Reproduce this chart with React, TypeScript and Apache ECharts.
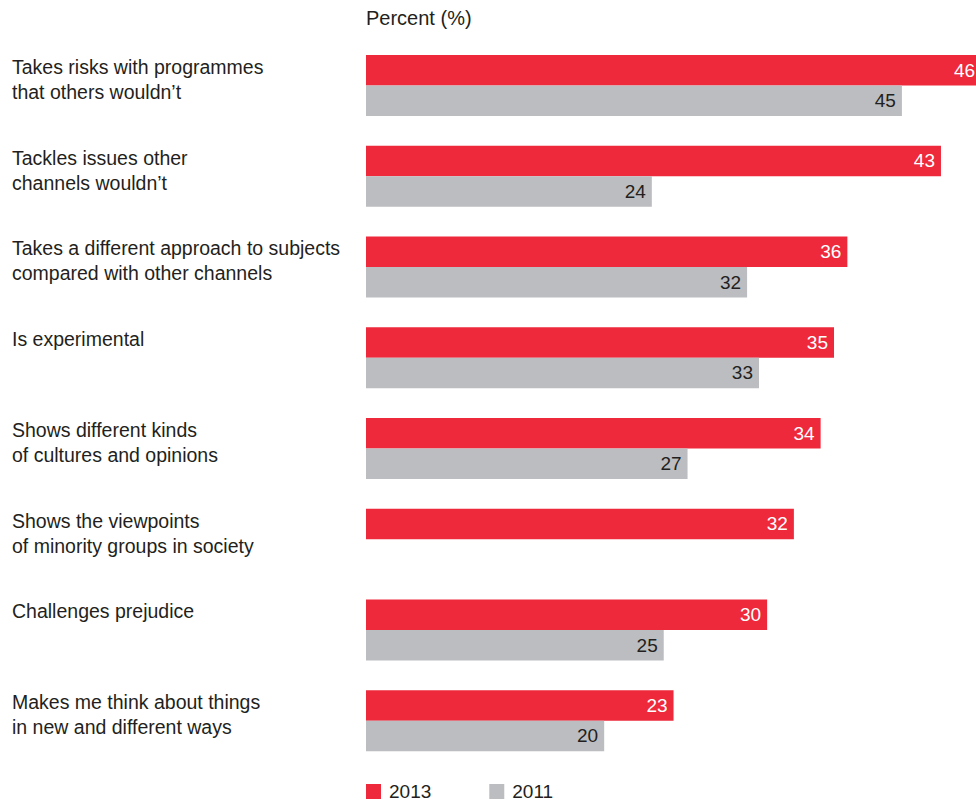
import React, { useEffect, useRef } from "react";
import * as echarts from "echarts";

const categories = [
  "Takes risks with programmes\nthat others wouldn’t",
  "Tackles issues other\nchannels wouldn’t",
  "Takes a different approach to subjects\ncompared with other channels",
  "Is experimental",
  "Shows different kinds\nof cultures and opinions",
  "Shows the viewpoints\nof minority groups in society",
  "Challenges prejudice",
  "Makes me think about things\nin new and different ways",
];
const values2013 = [46, 43, 36, 35, 34, 32, 30, 23];
const values2011: (number | null)[] = [45, 24, 32, 33, 27, null, 25, 20];
const seriesNames = ["2013", "2011"];
const axisTitle = "Percent (%)";

const RED = "#ed293b";
const GREY = "#bcbdc0";
const TEXT = "#231f20";
const FONT = "'Liberation Sans', Arial, Helvetica, sans-serif";

export default function App() {
  const ref = useRef<HTMLDivElement>(null);
  useEffect(() => {
    if (!ref.current) return;
    const chart = echarts.init(ref.current, undefined, { renderer: "svg" });
    chart.setOption({
      animation: false,
      textStyle: { fontFamily: FONT },
      title: {
        text: axisTitle,
        left: 366,
        top: 8,
        padding: 0,
        textStyle: { fontFamily: FONT, fontSize: 20, fontWeight: "normal", color: TEXT },
      },
      legend: {
        data: seriesNames,
        left: 366,
        top: 782,
        padding: 0,
        itemWidth: 15,
        itemHeight: 15,
        itemGap: 58,
        icon: "rect",
        textStyle: { fontFamily: FONT, fontSize: 19, color: TEXT, padding: [0, 0, 0, 3] },
      },
      grid: { left: 366, right: 0, top: 40, height: 726, containLabel: false },
      xAxis: [
        { type: "value", min: 0, max: 45.62, show: false },
        { type: "value", min: 0, max: 51.22, show: false },
      ],
      yAxis: {
        type: "category",
        data: categories,
        inverse: true,
        axisLine: { show: false },
        axisTick: { show: false },
        splitLine: { show: false },
        axisLabel: {
          align: "left",
          margin: 354,
          fontFamily: FONT,
          fontSize: 19.5,
          lineHeight: 25,
          color: TEXT,
          verticalAlign: "middle",
          formatter: (v: string) => (v.includes("\n") ? v : v + "\n ") + "\n{s| }",
          rich: {
            s: { fontSize: 8, lineHeight: 12 },
          },
        },
      },
      series: [
        {
          name: seriesNames[0],
          type: "bar",
          xAxisIndex: 0,
          data: values2013,
          barWidth: 30.5,
          barGap: "0%",
          clip: false,
          itemStyle: { color: RED },
          label: {
            show: true,
            position: "insideRight",
            distance: 6,
            color: "#ffffff",
            fontFamily: FONT,
            fontSize: 19,
          },
        },
        {
          name: seriesNames[1],
          type: "bar",
          xAxisIndex: 1,
          data: values2011,
          barWidth: 30.5,
          barGap: "0%",
          clip: false,
          itemStyle: { color: GREY },
          label: {
            show: true,
            position: "insideRight",
            distance: 6,
            color: TEXT,
            fontFamily: FONT,
            fontSize: 19,
          },
        },
      ],
    });
    return () => chart.dispose();
  }, []);
  return (
    <div
      ref={ref}
      style={{ position: "absolute", left: 0, top: 0, width: 976, height: 801, background: "#fff" }}
    />
  );
}
